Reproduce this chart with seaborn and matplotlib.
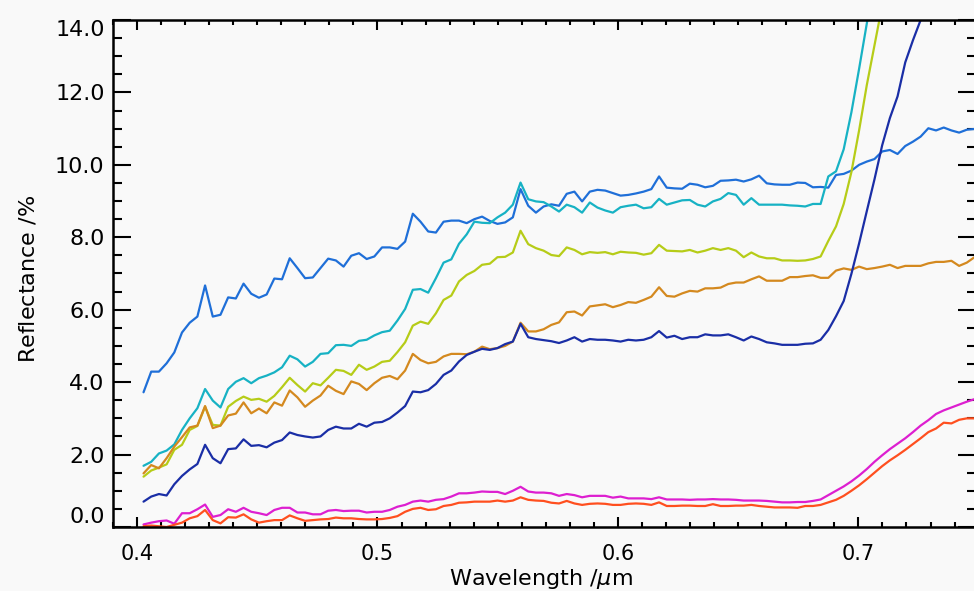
import numpy as np
import pandas as pd
import matplotlib
matplotlib.use("Agg")
import matplotlib.pyplot as plt
from matplotlib.ticker import MultipleLocator, FormatStrFormatter
import seaborn as sns

nan = np.nan

# band centres (um)
wavelength = [
    0.4027, 0.4059, 0.4091, 0.4123, 0.4155, 0.4187, 0.4219, 0.4251, 0.4283, 0.4315,
    0.4347, 0.4379, 0.4411, 0.4443, 0.4475, 0.4507, 0.4539, 0.4571, 0.4603, 0.4635,
    0.4667, 0.4699, 0.4731, 0.4763, 0.4795, 0.4827, 0.4859, 0.4891, 0.4923, 0.4955,
    0.4987, 0.5019, 0.5051, 0.5083, 0.5115, 0.5147, 0.5179, 0.5211, 0.5243, 0.5275,
    0.5307, 0.5339, 0.5371, 0.5403, 0.5435, 0.5467, 0.5499, 0.5531, 0.5563, 0.5595,
    0.5627, 0.5659, 0.5691, 0.5723, 0.5755, 0.5787, 0.5819, 0.5851, 0.5883, 0.5915,
    0.5947, 0.5979, 0.6011, 0.6043, 0.6075, 0.6107, 0.6139, 0.6171, 0.6203, 0.6235,
    0.6267, 0.6299, 0.6331, 0.6363, 0.6395, 0.6427, 0.6459, 0.6491, 0.6523, 0.6555,
    0.6587, 0.6619, 0.6651, 0.6683, 0.6715, 0.6747, 0.6779, 0.6811, 0.6843, 0.6875,
    0.6907, 0.6939, 0.6971, 0.7003, 0.7035, 0.7067, 0.7099, 0.7131, 0.7163, 0.7195,
    0.7227, 0.7259, 0.7291, 0.7323, 0.7355, 0.7387, 0.7419, 0.7451, 0.7483, 0.7515,
]

# reflectance spectra (%)
blue = [
    3.72, 4.29, 4.29, 4.52, 4.82, 5.37, 5.64, 5.81, 6.67, 5.81,
    5.86, 6.34, 6.31, 6.72, 6.44, 6.33, 6.42, 6.86, 6.84, 7.42,
    7.15, 6.87, 6.89, 7.15, 7.41, 7.36, 7.19, 7.49, 7.56, 7.40,
    7.47, 7.72, 7.72, 7.68, 7.88, 8.65, 8.43, 8.16, 8.13, 8.43,
    8.46, 8.46, 8.39, 8.50, 8.57, 8.45, 8.37, 8.41, 8.55, 9.33,
    8.87, 8.68, 8.85, 8.91, 8.87, 9.20, 9.26, 8.99, 9.26, 9.31,
    9.29, 9.22, 9.15, 9.17, 9.21, 9.26, 9.33, 9.68, 9.37, 9.35,
    9.34, 9.48, 9.45, 9.38, 9.42, 9.56, 9.57, 9.59, 9.54, 9.60,
    9.70, 9.49, 9.46, 9.45, 9.45, 9.51, 9.50, 9.38, 9.39, 9.37,
    9.72, 9.75, 9.84, 10.00, 10.09, 10.16, 10.37, 10.41, 10.30, 10.52,
    10.64, 10.78, 11.01, 10.95, 11.03, 10.95, 10.89, 10.97, 10.99, 11.00,
]
cyan = [
    1.69, 1.80, 2.03, 2.11, 2.28, 2.68, 3.00, 3.28, 3.81, 3.49,
    3.30, 3.81, 4.01, 4.11, 3.97, 4.11, 4.18, 4.27, 4.41, 4.73,
    4.63, 4.43, 4.56, 4.78, 4.80, 5.02, 5.03, 5.00, 5.14, 5.17,
    5.29, 5.38, 5.42, 5.70, 6.02, 6.55, 6.57, 6.47, 6.87, 7.30,
    7.39, 7.82, 8.08, 8.43, 8.40, 8.39, 8.55, 8.68, 8.90, 9.51,
    9.05, 8.99, 8.97, 8.85, 8.71, 8.90, 8.83, 8.68, 8.96, 8.82,
    8.74, 8.68, 8.83, 8.87, 8.90, 8.80, 8.83, 9.06, 8.90, 8.96,
    9.02, 9.03, 8.90, 8.85, 8.99, 9.06, 9.22, 9.17, 8.90, 9.08,
    8.90, 8.90, 8.90, 8.90, 8.88, 8.87, 8.85, 8.92, 8.92, 9.68,
    9.82, 10.43, 11.45, 12.65, 13.90, 15.10, nan, nan, nan, nan,
    nan, nan, nan, nan, nan, nan, nan, nan, nan, nan,
]
yellow = [
    1.39, 1.56, 1.64, 1.73, 2.13, 2.27, 2.68, 2.79, 3.32, 2.82,
    2.80, 3.32, 3.48, 3.60, 3.51, 3.54, 3.46, 3.62, 3.86, 4.12,
    3.92, 3.74, 3.97, 3.91, 4.12, 4.34, 4.31, 4.20, 4.48, 4.34,
    4.43, 4.56, 4.59, 4.83, 5.10, 5.56, 5.67, 5.61, 5.90, 6.27,
    6.39, 6.78, 6.96, 7.07, 7.24, 7.27, 7.45, 7.46, 7.58, 8.18,
    7.81, 7.70, 7.63, 7.51, 7.48, 7.72, 7.65, 7.53, 7.59, 7.57,
    7.59, 7.53, 7.60, 7.58, 7.57, 7.52, 7.56, 7.79, 7.63, 7.62,
    7.61, 7.65, 7.58, 7.63, 7.70, 7.65, 7.70, 7.63, 7.45, 7.58,
    7.47, 7.42, 7.42, 7.36, 7.36, 7.35, 7.36, 7.40, 7.47, 7.90,
    8.30, 8.92, 9.80, 10.95, 12.20, 13.30, 14.40, nan, nan, nan,
    nan, nan, nan, nan, nan, nan, nan, nan, nan, nan,
]
orange = [
    1.48, 1.71, 1.62, 1.90, 2.22, 2.48, 2.75, 2.80, 3.34, 2.73,
    2.80, 3.08, 3.13, 3.44, 3.14, 3.27, 3.14, 3.44, 3.35, 3.77,
    3.58, 3.32, 3.49, 3.63, 3.90, 3.76, 3.67, 4.02, 3.95, 3.78,
    3.97, 4.12, 4.17, 4.08, 4.32, 4.78, 4.61, 4.52, 4.56, 4.71,
    4.78, 4.78, 4.77, 4.84, 4.98, 4.91, 4.94, 5.00, 5.12, 5.64,
    5.40, 5.40, 5.46, 5.58, 5.65, 5.93, 5.95, 5.84, 6.09, 6.12,
    6.15, 6.07, 6.13, 6.21, 6.19, 6.27, 6.36, 6.62, 6.38, 6.36,
    6.45, 6.52, 6.50, 6.59, 6.59, 6.61, 6.71, 6.75, 6.75, 6.84,
    6.92, 6.80, 6.80, 6.80, 6.90, 6.90, 6.93, 6.95, 6.88, 6.88,
    7.08, 7.14, 7.10, 7.19, 7.12, 7.15, 7.19, 7.24, 7.15, 7.21,
    7.21, 7.21, 7.28, 7.32, 7.32, 7.35, 7.21, 7.30, 7.45, 7.50,
]
dark_blue = [
    0.70, 0.84, 0.91, 0.87, 1.18, 1.41, 1.59, 1.74, 2.27, 1.90,
    1.76, 2.15, 2.17, 2.42, 2.24, 2.26, 2.20, 2.33, 2.40, 2.61,
    2.54, 2.50, 2.47, 2.50, 2.68, 2.77, 2.72, 2.72, 2.85, 2.77,
    2.88, 2.90, 3.00, 3.16, 3.34, 3.74, 3.72, 3.78, 3.95, 4.20,
    4.32, 4.57, 4.75, 4.84, 4.92, 4.89, 4.94, 5.05, 5.12, 5.61,
    5.24, 5.19, 5.16, 5.13, 5.08, 5.15, 5.24, 5.12, 5.19, 5.17,
    5.17, 5.15, 5.12, 5.17, 5.15, 5.17, 5.24, 5.41, 5.23, 5.28,
    5.19, 5.24, 5.24, 5.32, 5.29, 5.29, 5.32, 5.24, 5.15, 5.26,
    5.19, 5.10, 5.07, 5.03, 5.03, 5.03, 5.06, 5.07, 5.17, 5.44,
    5.82, 6.24, 6.99, 7.83, 8.72, 9.60, 10.54, 11.29, 11.89, 12.83,
    13.44, 14.00, 14.60, nan, nan, nan, nan, nan, nan, nan,
]
magenta = [
    0.07, 0.12, 0.16, 0.18, 0.09, 0.38, 0.38, 0.49, 0.62, 0.28,
    0.33, 0.49, 0.42, 0.53, 0.42, 0.38, 0.33, 0.47, 0.53, 0.53,
    0.40, 0.40, 0.35, 0.35, 0.45, 0.47, 0.44, 0.45, 0.45, 0.40,
    0.42, 0.42, 0.47, 0.56, 0.61, 0.70, 0.73, 0.70, 0.75, 0.77,
    0.84, 0.93, 0.93, 0.95, 0.98, 0.97, 0.97, 0.91, 1.00, 1.11,
    0.98, 0.95, 0.95, 0.93, 0.86, 0.91, 0.88, 0.82, 0.86, 0.86,
    0.86, 0.81, 0.84, 0.79, 0.79, 0.79, 0.77, 0.82, 0.76, 0.76,
    0.76, 0.75, 0.76, 0.76, 0.77, 0.76, 0.76, 0.75, 0.73, 0.73,
    0.73, 0.72, 0.70, 0.68, 0.68, 0.69, 0.69, 0.72, 0.76, 0.88,
    1.00, 1.12, 1.26, 1.42, 1.60, 1.80, 1.98, 2.15, 2.30, 2.45,
    2.62, 2.80, 2.95, 3.12, 3.22, 3.30, 3.38, 3.46, 3.53, 3.60,
]
red = [
    0.02, 0.04, 0.02, 0.00, 0.06, 0.12, 0.24, 0.30, 0.47, 0.19,
    0.10, 0.27, 0.26, 0.35, 0.21, 0.12, 0.16, 0.19, 0.19, 0.32,
    0.24, 0.17, 0.19, 0.21, 0.22, 0.26, 0.24, 0.24, 0.22, 0.21,
    0.21, 0.22, 0.25, 0.30, 0.42, 0.50, 0.53, 0.47, 0.49, 0.58,
    0.61, 0.67, 0.68, 0.70, 0.70, 0.70, 0.73, 0.70, 0.73, 0.82,
    0.75, 0.73, 0.72, 0.67, 0.65, 0.72, 0.65, 0.61, 0.64, 0.65,
    0.64, 0.61, 0.61, 0.64, 0.65, 0.64, 0.61, 0.68, 0.58, 0.58,
    0.59, 0.59, 0.58, 0.58, 0.63, 0.58, 0.58, 0.59, 0.59, 0.61,
    0.58, 0.56, 0.54, 0.54, 0.54, 0.53, 0.58, 0.58, 0.61, 0.68,
    0.75, 0.86, 1.00, 1.15, 1.32, 1.50, 1.68, 1.84, 1.98, 2.13,
    2.29, 2.45, 2.62, 2.72, 2.88, 2.86, 2.96, 3.00, 3.00, 3.02,
]

series_names = ["s1", "s2", "s3", "s4", "s5", "s6", "s7"]
series_values = [blue, cyan, yellow, orange, dark_blue, magenta, red]
line_colors = ["#1f6fd8", "#17b2c4", "#b6cc18", "#d4891f", "#1a2ea6", "#dd1fd0", "#ff4f1f"]

x_ticks = [0.4, 0.5, 0.6, 0.7]
y_ticks = [0.0, 2.0, 4.0, 6.0, 8.0, 10.0, 12.0, 14.0]

bg = "#f9f9f9"

sns.set_style("ticks")
plt.rcParams["font.family"] = ["DejaVu Sans"]
plt.rcParams["mathtext.fontset"] = "dejavusans"

frames = []
for name, vals in zip(series_names, series_values):
    frames.append(pd.DataFrame({"wavelength": wavelength, "reflectance": vals, "series": name}))
df = pd.concat(frames, ignore_index=True)

fig = plt.figure(figsize=(9.74, 5.91), dpi=100, facecolor=bg)
ax = fig.add_axes([0.116, 0.1083, 0.886, 0.8579])
ax.set_facecolor(bg)

sns.lineplot(data=df, x="wavelength", y="reflectance", hue="series",
             palette=dict(zip(series_names, line_colors)), estimator=None,
             sort=False, linewidth=1.6, legend=False, ax=ax)

ax.set_xlim(0.39, 0.7489)
ax.set_ylim(0, 14)
ax.set_xticks(x_ticks)
ax.set_yticks(y_ticks)
ax.xaxis.set_minor_locator(MultipleLocator(0.01))
ax.yaxis.set_minor_locator(MultipleLocator(0.5))
ax.xaxis.set_major_formatter(FormatStrFormatter("%.1f"))
ax.yaxis.set_major_formatter(FormatStrFormatter("%.1f"))

for side in ["left", "right", "top", "bottom"]:
    ax.spines[side].set_visible(True)
    ax.spines[side].set_linewidth(1.8)
    ax.spines[side].set_color("black")

ax.tick_params(which="both", direction="in", top=True, right=True,
               width=1.5, colors="black")
ax.tick_params(axis="x", which="major", length=7.5, pad=12, labelsize=15)
ax.tick_params(axis="x", which="minor", length=3.7)
ax.tick_params(axis="y", which="major", length=13, pad=6, labelsize=16)
ax.tick_params(axis="y", which="minor", length=6.5)

ax.set_xlabel(r"Wavelength $\mathit{/\mu}$m", fontsize=16, color="black")
ax.set_ylabel(r"Reflectance $\mathit{/}$%", fontsize=16, color="black")
ax.xaxis.set_label_coords(0.496, -0.079)
ax.yaxis.set_label_coords(-0.086, 0.49)

fig.canvas.draw()
for lab in ax.get_yticklabels():
    if lab.get_text() == "14.0":
        lab.set_va("top")
    elif lab.get_text() == "0.0":
        lab.set_va("bottom")

fig.savefig("out.png", dpi=100, facecolor=bg)
plt.close(fig)
